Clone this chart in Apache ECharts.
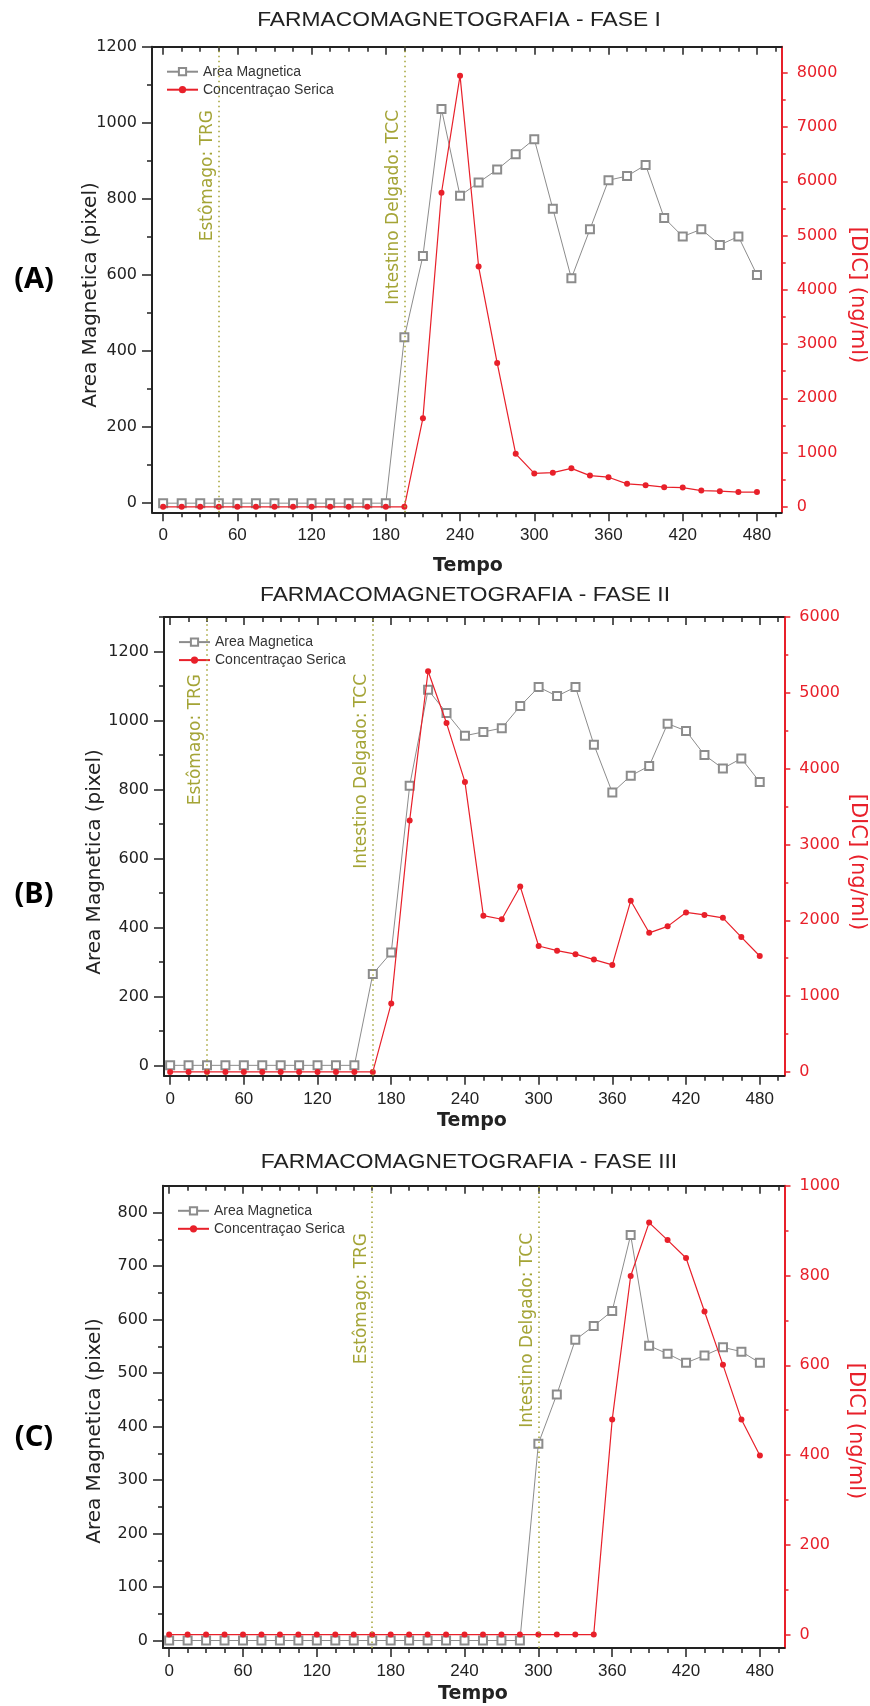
<!DOCTYPE html>
<html>
<head>
<meta charset="utf-8">
<title>Farmacomagnetografia</title>
<script src="https://cdn.jsdelivr.net/npm/echarts@6/dist/echarts.min.js"></script>
<style>
  html, body { margin: 0; padding: 0; background: #fff; }
  #chart { width: 870px; height: 1706px; }
</style>
</head>
<body>
<div id="chart"></div>
<script>
// tempo (min)
const tempo = [0, 15, 30, 45, 60, 75, 90, 105, 120, 135, 150, 165, 180, 195, 210, 225, 240,
  255, 270, 285, 300, 315, 330, 345, 360, 375, 390, 405, 420, 435, 450, 465, 480];

// fase I
const areaA = [0, 0, 0, 0, 0, 0, 0, 0, 0, 0, 0, 0, 0, 436, 650, 1036, 808,
  843, 877, 917, 957, 774, 591, 720, 849, 860, 889, 750, 701, 720, 679, 701, 600];
const concA = [0, 0, 0, 0, 0, 0, 0, 0, 0, 0, 0, 0, 0, 0, 1635, 5789, 7946,
  4429, 2653, 978, 616, 630, 710, 576, 547, 424, 399, 363, 356, 300, 289, 272, 272];
const marcasA = [45, 195];

// fase II
const areaB = [0, 0, 0, 0, 0, 0, 0, 0, 0, 0, 0, 265, 327, 811, 1089, 1022, 956,
  967, 978, 1042, 1097, 1071, 1097, 930, 791, 840, 868, 991, 970, 900, 861, 890, 822];
const concB = [0, 0, 0, 0, 0, 0, 0, 0, 0, 0, 0, 0, 904, 3318, 5285, 4602, 3826,
  2061, 2014, 2447, 1661, 1600, 1553, 1482, 1412, 2259, 1835, 1920, 2104, 2071, 2033, 1779, 1529];
const marcasB = [30, 165];

// fase III
const areaC = [0, 0, 0, 0, 0, 0, 0, 0, 0, 0, 0, 0, 0, 0, 0, 0, 0,
  0, 0, 0, 368, 460, 562, 588, 616, 758, 551, 536, 519, 533, 548, 540, 519];
const concC = [0, 0, 0, 0, 0, 0, 0, 0, 0, 0, 0, 0, 0, 0, 0, 0, 0,
  0, 0, 0, 0, 0, 0, 0, 479, 799, 918, 879, 839, 720, 601, 479, 399];
const marcasC = [165, 300];

// ticks
const xMajor = [0, 60, 120, 180, 240, 300, 360, 420, 480];
const xMinor = [15, 30, 45, 75, 90, 105, 135, 150, 165, 195, 210, 225, 255, 270, 285,
  315, 330, 345, 375, 390, 405, 435, 450, 465, 495];
const esqMajorA = [0, 200, 400, 600, 800, 1000, 1200];
const esqMinorA = [100, 300, 500, 700, 900, 1100];
const dirMajorA = [0, 1000, 2000, 3000, 4000, 5000, 6000, 7000, 8000];
const dirMinorA = [500, 1500, 2500, 3500, 4500, 5500, 6500, 7500];
const esqMajorB = [0, 200, 400, 600, 800, 1000, 1200];
const esqMinorB = [100, 300, 500, 700, 900, 1100, 1300];
const dirMajorB = [0, 1000, 2000, 3000, 4000, 5000, 6000];
const dirMinorB = [500, 1500, 2500, 3500, 4500, 5500];
const esqMajorC = [0, 100, 200, 300, 400, 500, 600, 700, 800];
const esqMinorC = [50, 150, 250, 350, 450, 550, 650, 750];
const dirMajorC = [0, 200, 400, 600, 800, 1000];
const dirMinorC = [100, 300, 500, 700, 900];

const titulos = ['FARMACOMAGNETOGRAFIA - FASE I', 'FARMACOMAGNETOGRAFIA - FASE II', 'FARMACOMAGNETOGRAFIA - FASE III'];
const letras = ['(A)', '(B)', '(C)'];
const marcaNomes = ['Estômago: TRG', 'Intestino Delgado: TCC'];
const serieNomes = ['Area Magnetica', 'Concentraçao Serica'];

const panels = [
  { area: areaA, conc: concA, marcas: marcasA, esqMajor: esqMajorA, esqMinor: esqMinorA, dirMajor: dirMajorA, dirMinor: dirMinorA,
    grid: { left: 152, top: 46.7, width: 629.7, height: 465.6 }, x: [-9, 500], yL: [-24, 1200], yR: [-100, 8480],
    titleY: 20, titleX: 459, tempoY: 566, tempoX: 468, nameY: 295, nameLX: 90.5, nameRX: 857, letterY: 280, markTop: 110 },
  { area: areaB, conc: concB, marcas: marcasB, esqMajor: esqMajorB, esqMinor: esqMinorB, dirMajor: dirMajorB, dirMinor: dirMinorB,
    grid: { left: 164, top: 617.1, width: 620.3, height: 458.6 }, x: [-5, 500], yL: [-30, 1300], yR: [-50, 6000],
    titleY: 595, titleX: 465, tempoY: 1121, tempoX: 472, nameY: 862, nameLX: 94.5, nameRX: 857, letterY: 895, markTop: 674 },
  { area: areaC, conc: concC, marcas: marcasC, esqMajor: esqMajorC, esqMinor: esqMinorC, dirMajor: dirMajorC, dirMinor: dirMinorC,
    grid: { left: 163, top: 1185.8, width: 621.5, height: 462.2 }, x: [-5, 500], yL: [-14, 850], yR: [-30, 1000],
    titleY: 1162.5, titleX: 469, tempoY: 1694, tempoX: 473, nameY: 1431, nameLX: 94.5, nameRX: 855, letterY: 1438, markTop: 1233 }
];

const PRETO = '#222';
const VERMELHO = '#e8202a';
const CINZA = '#8c8c8c';
const OLIVA = '#a4a436';

function semSeparador(v) { return String(v); }

function eixoX(g, lim, pos, vals, len, line, labels, inside) {
  return {
    type: 'value', gridIndex: g, min: lim[0], max: lim[1], position: pos,
    splitLine: { show: false },
    axisLine: { show: line, onZero: false, lineStyle: { color: PRETO, width: 2 } },
    axisTick: { show: true, inside: inside, customValues: vals, length: len, lineStyle: { color: PRETO, width: 1.5 } },
    axisLabel: labels ? { customValues: vals, formatter: semSeparador, margin: 15, fontSize: 17, fontFamily: 'Liberation Sans', color: PRETO } : { show: false },
    axisPointer: { show: false }
  };
}

function eixoY(g, lim, pos, vals, len, line, labels, cor) {
  return {
    type: 'value', gridIndex: g, min: lim[0], max: lim[1], position: pos,
    splitLine: { show: false },
    axisLine: { show: line, onZero: false, lineStyle: { color: cor, width: 2 } },
    axisTick: { show: true, customValues: vals, length: len, lineStyle: { color: cor, width: 1.5 } },
    axisLabel: labels ? { customValues: vals, formatter: semSeparador, margin: 15, fontSize: 16, fontFamily: 'DejaVu Sans', color: cor } : { show: false },
    axisPointer: { show: false }
  };
}

const grids = [], xAxes = [], yAxes = [], series = [], legends = [];

panels.forEach(function (p, i) {
  grids.push(Object.assign({ containLabel: false }, p.grid));
  xAxes.push(
    eixoX(i, p.x, 'bottom', xMajor, 9, true, true, false),
    eixoX(i, p.x, 'bottom', xMinor, 5, false, false, false),
    eixoX(i, p.x, 'top', xMajor, 8, true, false, true),
    eixoX(i, p.x, 'top', xMinor, 5, false, false, true)
  );
  yAxes.push(
    eixoY(i, p.yL, 'left', p.esqMajor, 10, true, true, PRETO),
    eixoY(i, p.yL, 'left', p.esqMinor, 5, false, false, PRETO),
    eixoY(i, p.yR, 'right', p.dirMajor, 6, true, true, VERMELHO),
    eixoY(i, p.yR, 'right', p.dirMinor, 4, false, false, VERMELHO)
  );
  series.push({
    type: 'line', name: serieNomes[0], xAxisIndex: 4 * i, yAxisIndex: 4 * i,
    data: tempo.map(function (t, k) { return [t, p.area[k]]; }),
    symbol: 'emptyRect', symbolSize: 8, showAllSymbol: true, clip: false,
    lineStyle: { color: CINZA, width: 1 },
    itemStyle: { color: CINZA, borderWidth: 1.2 },
    z: 3,
    markLine: {
      silent: true, symbol: ['none', 'none'], label: { show: false },
      lineStyle: { color: OLIVA, type: [1.5, 3.5], width: 1.5 },
      data: p.marcas.map(function (m) { return { xAxis: m }; })
    }
  }, {
    type: 'line', name: serieNomes[1], xAxisIndex: 4 * i, yAxisIndex: 4 * i + 2,
    data: tempo.map(function (t, k) { return [t, p.conc[k]]; }),
    symbol: 'circle', symbolSize: 6, showAllSymbol: true, clip: false,
    lineStyle: { color: VERMELHO, width: 1.2 },
    itemStyle: { color: VERMELHO },
    z: 4
  });
  legends.push({
    orient: 'vertical', left: p.grid.left + 9, top: p.grid.top + 13,
    itemWidth: 31, itemHeight: 9, itemGap: 4, selectedMode: false,
    data: serieNomes,
    textStyle: { fontFamily: 'Liberation Sans', fontSize: 14, color: '#333' }
  });
});

const chart = echarts.init(document.getElementById('chart'));
chart.setOption({
  backgroundColor: '#fff',
  animation: false,
  grid: grids,
  xAxis: xAxes,
  yAxis: yAxes,
  legend: legends,
  series: series
});

// textos
const textos = [];
panels.forEach(function (p, i) {
  textos.push(
    { type: 'text', x: p.titleX, y: p.titleY, scaleX: 1.14, style: { text: titulos[i], font: '20px "Liberation Sans"', fill: PRETO, align: 'center', verticalAlign: 'middle' } },
    { type: 'text', x: 34, y: p.letterY, style: { text: letras[i], font: 'bold 29px "Noto Sans"', fill: '#000', align: 'center', verticalAlign: 'middle' } },
    { type: 'text', x: p.nameLX, y: p.nameY, rotation: Math.PI / 2, style: { text: 'Area Magnetica (pixel)', font: '20px "DejaVu Sans"', fill: PRETO, align: 'center', verticalAlign: 'middle' } },
    { type: 'text', x: p.nameRX, y: p.nameY, rotation: -Math.PI / 2, style: { text: '[DIC] (ng/ml)', font: '21px "DejaVu Sans"', fill: VERMELHO, align: 'center', verticalAlign: 'middle' } },
    { type: 'text', x: p.tempoX, y: p.tempoY, style: { text: 'Tempo', font: 'bold 19px "DejaVu Sans"', fill: PRETO, align: 'center', verticalAlign: 'middle' } }
  );
  p.marcas.forEach(function (m, j) {
    const px = chart.convertToPixel({ xAxisIndex: 4 * i }, m);
    textos.push({ type: 'text', x: px - 11, y: p.markTop, rotation: Math.PI / 2,
      style: { text: marcaNomes[j], font: '17px "DejaVu Sans"', fill: OLIVA, align: 'right', verticalAlign: 'middle' } });
  });
});
chart.setOption({ graphic: { elements: textos } });
</script>
</body>
</html>
